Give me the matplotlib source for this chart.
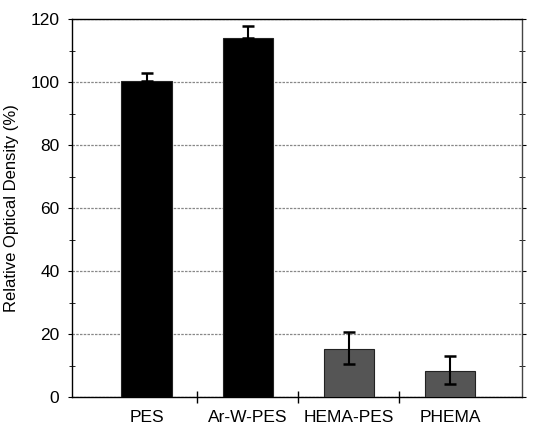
import numpy as np
import matplotlib.pyplot as plt

plt.rcParams['font.family'] = ['Liberation Sans', 'DejaVu Sans']

categories = ['PES', 'Ar-W-PES', 'HEMA-PES', 'PHEMA']
values = [100.5, 113.9, 15.4, 8.3]
err_low = [0, 0, 5.0, 4.2]
err_high = [2.4, 3.9, 5.1, 4.7]
colors = ['#000000', '#000000', '#555555', '#555555']

fig = plt.figure(figsize=(5.33, 4.26), dpi=100)
ax = fig.add_axes([0.135, 0.068, 0.844, 0.887])

x = np.arange(len(categories))
ax.bar(x, values, width=0.5, color=colors, edgecolor='#222222', linewidth=0.8, zorder=3)
ax.errorbar(x, values, yerr=[err_low, err_high], fmt='none', ecolor='black',
            elinewidth=1.5, capsize=4, capthick=1.8, zorder=4)

ax.set_xlim(-0.74, 3.71)
ax.set_ylim(0, 120)
ax.set_yticks(np.arange(0, 121, 20))
ax.set_yticks(np.arange(10, 120, 20), minor=True)
ax.yaxis.grid(True, which='major', linestyle=(0, (2, 1)), color='#888888', linewidth=0.9, zorder=0)

ax.set_xticks(x)
ax.set_xticklabels(categories)
ax.set_xticks([0.5, 1.5, 2.5], minor=True)
ax.tick_params(axis='x', which='major', length=0, pad=9, labelsize=12.5)
ax.tick_params(axis='x', which='minor', direction='inout', length=8, width=1)
ax.tick_params(axis='y', which='major', direction='out', length=3, labelsize=12.5, pad=6)
ax.tick_params(axis='y', which='minor', direction='inout', length=4)
ax.tick_params(axis='y', which='both', right=True)

ax.set_ylabel('Relative Optical Density (%)', fontsize=12, labelpad=8)

for s in ax.spines.values():
    s.set_linewidth(1.0)
ax.spines['right'].set_color('#444444')

fig.savefig('out.png', dpi=100)
